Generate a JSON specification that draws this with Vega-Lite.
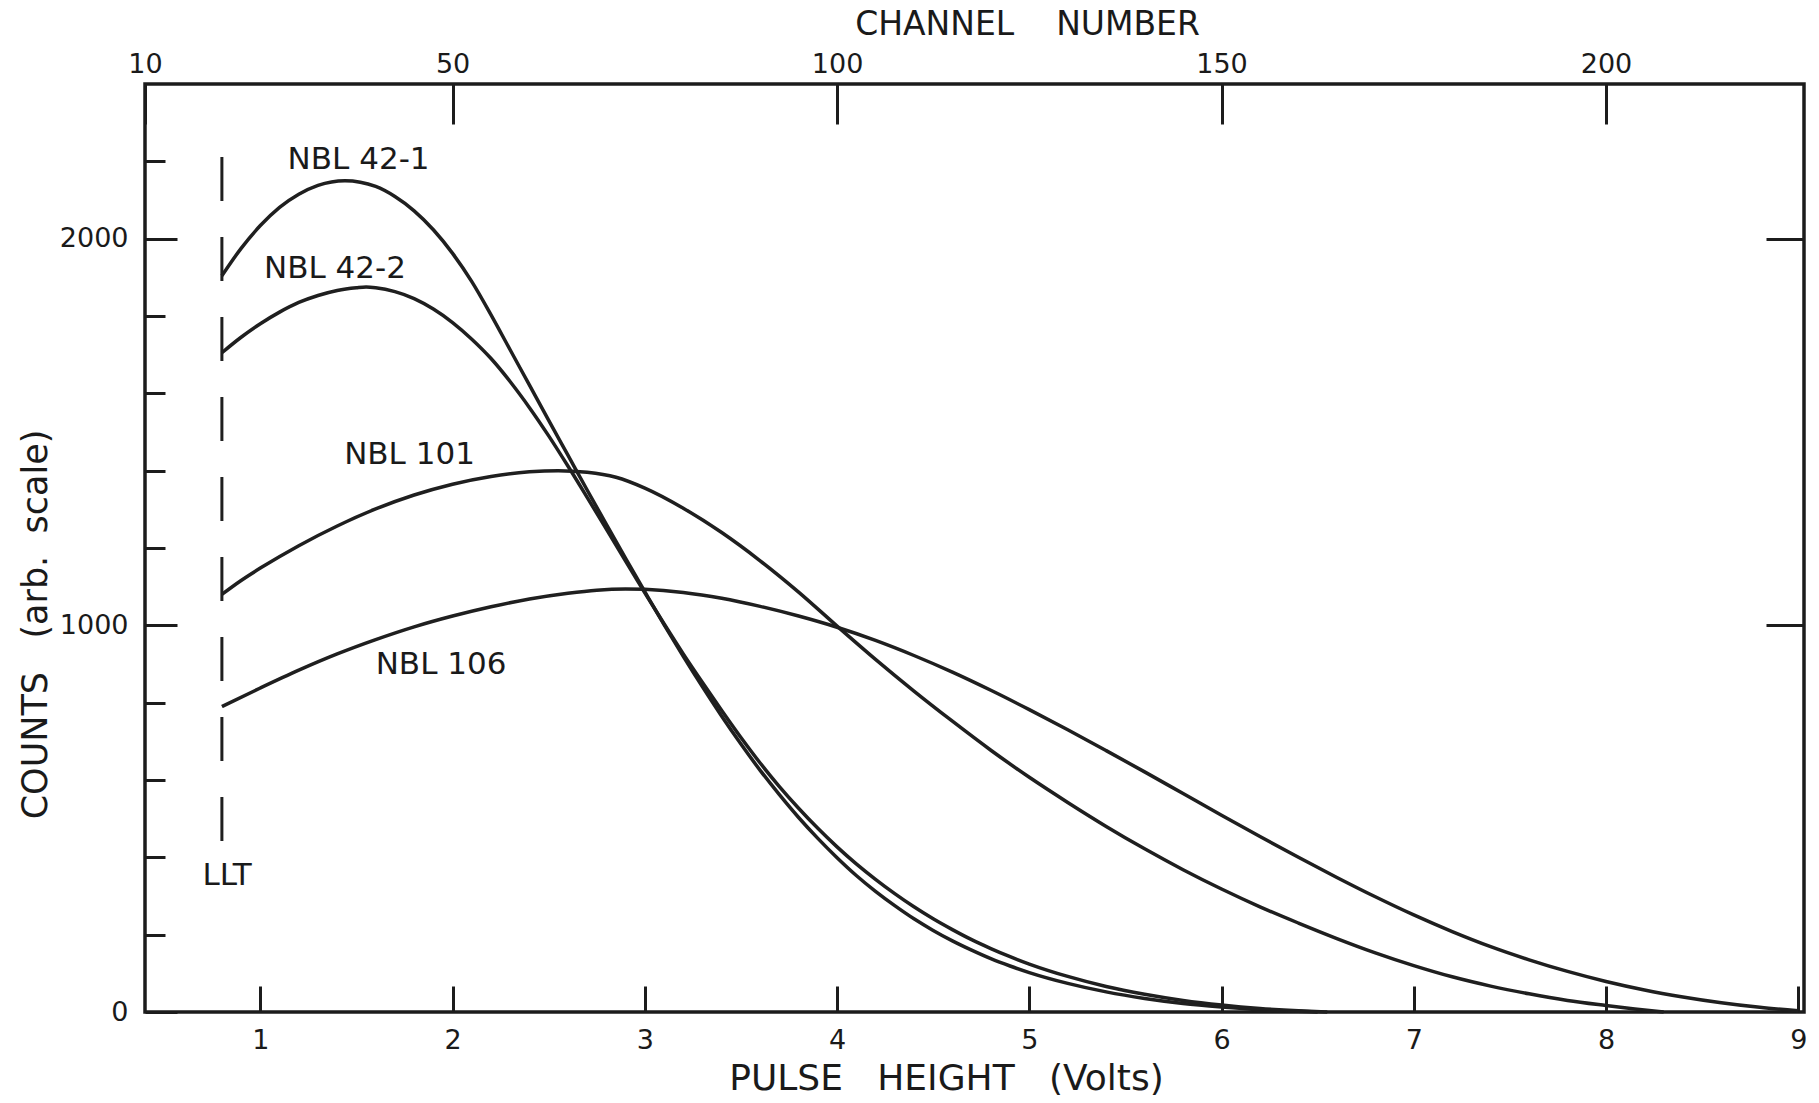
{
  "$schema": "https://vega.github.io/schema/vega-lite/v6.json",
  "width": 1659,
  "height": 928,
  "autosize": {"type": "none"},
  "padding": {"left": 145, "top": 84, "right": 15, "bottom": 91},
  "background": "#ffffff",
  "config": {
    "view": {"stroke": "#1c1c1c", "strokeWidth": 3.5},
    "axis": {
      "domain": false,
      "grid": false,
      "tickColor": "#1c1c1c",
      "tickWidth": 3,
      "labelColor": "#1a1a1a",
      "titleColor": "#1a1a1a",
      "labelFont": "DejaVu Sans",
      "titleFont": "DejaVu Sans",
      "labelFontSize": 27,
      "titleFontWeight": "normal",
      "labelOverlap": false
    },
    "text": {"font": "DejaVu Sans", "color": "#1a1a1a"}
  },
  "datasets": {
    "spectra": [
      {"sample": "NBL 42-1", "volts": 0.8, "counts": 1904},
      {"sample": "NBL 42-1", "volts": 0.9, "counts": 1975},
      {"sample": "NBL 42-1", "volts": 1.0, "counts": 2034},
      {"sample": "NBL 42-1", "volts": 1.1, "counts": 2081},
      {"sample": "NBL 42-1", "volts": 1.2, "counts": 2115},
      {"sample": "NBL 42-1", "volts": 1.3, "counts": 2138},
      {"sample": "NBL 42-1", "volts": 1.44, "counts": 2150},
      {"sample": "NBL 42-1", "volts": 1.6, "counts": 2135},
      {"sample": "NBL 42-1", "volts": 1.7, "counts": 2109},
      {"sample": "NBL 42-1", "volts": 1.8, "counts": 2072},
      {"sample": "NBL 42-1", "volts": 1.9, "counts": 2023},
      {"sample": "NBL 42-1", "volts": 2.0, "counts": 1962},
      {"sample": "NBL 42-1", "volts": 2.1, "counts": 1889},
      {"sample": "NBL 42-1", "volts": 2.2, "counts": 1803},
      {"sample": "NBL 42-1", "volts": 2.3, "counts": 1712},
      {"sample": "NBL 42-1", "volts": 2.4, "counts": 1621},
      {"sample": "NBL 42-1", "volts": 2.5, "counts": 1530},
      {"sample": "NBL 42-1", "volts": 2.6, "counts": 1440},
      {"sample": "NBL 42-1", "volts": 2.7, "counts": 1350},
      {"sample": "NBL 42-1", "volts": 2.8, "counts": 1261},
      {"sample": "NBL 42-1", "volts": 2.9, "counts": 1173},
      {"sample": "NBL 42-1", "volts": 3.0, "counts": 1087},
      {"sample": "NBL 42-1", "volts": 3.1, "counts": 1002},
      {"sample": "NBL 42-1", "volts": 3.2, "counts": 920},
      {"sample": "NBL 42-1", "volts": 3.3, "counts": 841},
      {"sample": "NBL 42-1", "volts": 3.4, "counts": 765},
      {"sample": "NBL 42-1", "volts": 3.5, "counts": 693},
      {"sample": "NBL 42-1", "volts": 3.6, "counts": 625},
      {"sample": "NBL 42-1", "volts": 3.7, "counts": 562},
      {"sample": "NBL 42-1", "volts": 3.8, "counts": 503},
      {"sample": "NBL 42-1", "volts": 3.9, "counts": 449},
      {"sample": "NBL 42-1", "volts": 4.0, "counts": 399},
      {"sample": "NBL 42-1", "volts": 4.1, "counts": 353},
      {"sample": "NBL 42-1", "volts": 4.2, "counts": 312},
      {"sample": "NBL 42-1", "volts": 4.3, "counts": 275},
      {"sample": "NBL 42-1", "volts": 4.4, "counts": 241},
      {"sample": "NBL 42-1", "volts": 4.5, "counts": 211},
      {"sample": "NBL 42-1", "volts": 4.6, "counts": 184},
      {"sample": "NBL 42-1", "volts": 4.7, "counts": 160},
      {"sample": "NBL 42-1", "volts": 4.8, "counts": 138},
      {"sample": "NBL 42-1", "volts": 4.9, "counts": 119},
      {"sample": "NBL 42-1", "volts": 5.0, "counts": 102},
      {"sample": "NBL 42-1", "volts": 5.2, "counts": 74},
      {"sample": "NBL 42-1", "volts": 5.4, "counts": 52},
      {"sample": "NBL 42-1", "volts": 5.6, "counts": 35},
      {"sample": "NBL 42-1", "volts": 5.8, "counts": 22},
      {"sample": "NBL 42-1", "volts": 6.0, "counts": 13},
      {"sample": "NBL 42-1", "volts": 6.2, "counts": 6},
      {"sample": "NBL 42-1", "volts": 6.4, "counts": 2},
      {"sample": "NBL 42-1", "volts": 6.5, "counts": 0},

      {"sample": "NBL 42-2", "volts": 0.8, "counts": 1705},
      {"sample": "NBL 42-2", "volts": 0.9, "counts": 1745},
      {"sample": "NBL 42-2", "volts": 1.0, "counts": 1780},
      {"sample": "NBL 42-2", "volts": 1.1, "counts": 1810},
      {"sample": "NBL 42-2", "volts": 1.2, "counts": 1835},
      {"sample": "NBL 42-2", "volts": 1.3, "counts": 1853},
      {"sample": "NBL 42-2", "volts": 1.4, "counts": 1866},
      {"sample": "NBL 42-2", "volts": 1.5, "counts": 1873},
      {"sample": "NBL 42-2", "volts": 1.55, "counts": 1875},
      {"sample": "NBL 42-2", "volts": 1.6, "counts": 1873},
      {"sample": "NBL 42-2", "volts": 1.7, "counts": 1863},
      {"sample": "NBL 42-2", "volts": 1.8, "counts": 1845},
      {"sample": "NBL 42-2", "volts": 1.9, "counts": 1818},
      {"sample": "NBL 42-2", "volts": 2.0, "counts": 1783},
      {"sample": "NBL 42-2", "volts": 2.1, "counts": 1740},
      {"sample": "NBL 42-2", "volts": 2.2, "counts": 1690},
      {"sample": "NBL 42-2", "volts": 2.3, "counts": 1630},
      {"sample": "NBL 42-2", "volts": 2.4, "counts": 1563},
      {"sample": "NBL 42-2", "volts": 2.5, "counts": 1490},
      {"sample": "NBL 42-2", "volts": 2.6, "counts": 1412},
      {"sample": "NBL 42-2", "volts": 2.7, "counts": 1331},
      {"sample": "NBL 42-2", "volts": 2.8, "counts": 1249},
      {"sample": "NBL 42-2", "volts": 2.9, "counts": 1166},
      {"sample": "NBL 42-2", "volts": 3.0, "counts": 1084},
      {"sample": "NBL 42-2", "volts": 3.1, "counts": 1004},
      {"sample": "NBL 42-2", "volts": 3.2, "counts": 926},
      {"sample": "NBL 42-2", "volts": 3.3, "counts": 852},
      {"sample": "NBL 42-2", "volts": 3.4, "counts": 780},
      {"sample": "NBL 42-2", "volts": 3.5, "counts": 710},
      {"sample": "NBL 42-2", "volts": 3.6, "counts": 644},
      {"sample": "NBL 42-2", "volts": 3.7, "counts": 583},
      {"sample": "NBL 42-2", "volts": 3.8, "counts": 527},
      {"sample": "NBL 42-2", "volts": 3.9, "counts": 475},
      {"sample": "NBL 42-2", "volts": 4.0, "counts": 427},
      {"sample": "NBL 42-2", "volts": 4.1, "counts": 383},
      {"sample": "NBL 42-2", "volts": 4.2, "counts": 343},
      {"sample": "NBL 42-2", "volts": 4.3, "counts": 306},
      {"sample": "NBL 42-2", "volts": 4.4, "counts": 272},
      {"sample": "NBL 42-2", "volts": 4.5, "counts": 241},
      {"sample": "NBL 42-2", "volts": 4.6, "counts": 213},
      {"sample": "NBL 42-2", "volts": 4.7, "counts": 187},
      {"sample": "NBL 42-2", "volts": 4.8, "counts": 164},
      {"sample": "NBL 42-2", "volts": 4.9, "counts": 143},
      {"sample": "NBL 42-2", "volts": 5.0, "counts": 124},
      {"sample": "NBL 42-2", "volts": 5.2, "counts": 92},
      {"sample": "NBL 42-2", "volts": 5.4, "counts": 66},
      {"sample": "NBL 42-2", "volts": 5.6, "counts": 46},
      {"sample": "NBL 42-2", "volts": 5.8, "counts": 30},
      {"sample": "NBL 42-2", "volts": 6.0, "counts": 18},
      {"sample": "NBL 42-2", "volts": 6.2, "counts": 9},
      {"sample": "NBL 42-2", "volts": 6.4, "counts": 3},
      {"sample": "NBL 42-2", "volts": 6.55, "counts": 0},

      {"sample": "NBL 101", "volts": 0.8, "counts": 1080},
      {"sample": "NBL 101", "volts": 0.9, "counts": 1116},
      {"sample": "NBL 101", "volts": 1.0, "counts": 1148},
      {"sample": "NBL 101", "volts": 1.2, "counts": 1206},
      {"sample": "NBL 101", "volts": 1.4, "counts": 1257},
      {"sample": "NBL 101", "volts": 1.6, "counts": 1301},
      {"sample": "NBL 101", "volts": 1.8, "counts": 1337},
      {"sample": "NBL 101", "volts": 2.0, "counts": 1365},
      {"sample": "NBL 101", "volts": 2.2, "counts": 1385},
      {"sample": "NBL 101", "volts": 2.4, "counts": 1397},
      {"sample": "NBL 101", "volts": 2.55, "counts": 1400},
      {"sample": "NBL 101", "volts": 2.7, "counts": 1396},
      {"sample": "NBL 101", "volts": 2.85, "counts": 1383},
      {"sample": "NBL 101", "volts": 3.0, "counts": 1355},
      {"sample": "NBL 101", "volts": 3.2, "counts": 1303},
      {"sample": "NBL 101", "volts": 3.4, "counts": 1240},
      {"sample": "NBL 101", "volts": 3.6, "counts": 1167},
      {"sample": "NBL 101", "volts": 3.8, "counts": 1086},
      {"sample": "NBL 101", "volts": 4.0, "counts": 998},
      {"sample": "NBL 101", "volts": 4.2, "counts": 912},
      {"sample": "NBL 101", "volts": 4.4, "counts": 830},
      {"sample": "NBL 101", "volts": 4.6, "counts": 752},
      {"sample": "NBL 101", "volts": 4.8, "counts": 677},
      {"sample": "NBL 101", "volts": 5.0, "counts": 607},
      {"sample": "NBL 101", "volts": 5.2, "counts": 542},
      {"sample": "NBL 101", "volts": 5.4, "counts": 480},
      {"sample": "NBL 101", "volts": 5.6, "counts": 422},
      {"sample": "NBL 101", "volts": 5.8, "counts": 368},
      {"sample": "NBL 101", "volts": 6.0, "counts": 318},
      {"sample": "NBL 101", "volts": 6.2, "counts": 272},
      {"sample": "NBL 101", "volts": 6.4, "counts": 230},
      {"sample": "NBL 101", "volts": 6.6, "counts": 190},
      {"sample": "NBL 101", "volts": 6.8, "counts": 153},
      {"sample": "NBL 101", "volts": 7.0, "counts": 120},
      {"sample": "NBL 101", "volts": 7.2, "counts": 91},
      {"sample": "NBL 101", "volts": 7.4, "counts": 67},
      {"sample": "NBL 101", "volts": 7.6, "counts": 47},
      {"sample": "NBL 101", "volts": 7.8, "counts": 30},
      {"sample": "NBL 101", "volts": 8.0, "counts": 17},
      {"sample": "NBL 101", "volts": 8.15, "counts": 8},
      {"sample": "NBL 101", "volts": 8.3, "counts": 0},

      {"sample": "NBL 106", "volts": 0.8, "counts": 790},
      {"sample": "NBL 106", "volts": 1.0, "counts": 838},
      {"sample": "NBL 106", "volts": 1.2, "counts": 884},
      {"sample": "NBL 106", "volts": 1.4, "counts": 926},
      {"sample": "NBL 106", "volts": 1.6, "counts": 963},
      {"sample": "NBL 106", "volts": 1.8, "counts": 996},
      {"sample": "NBL 106", "volts": 2.0, "counts": 1024},
      {"sample": "NBL 106", "volts": 2.2, "counts": 1048},
      {"sample": "NBL 106", "volts": 2.4, "counts": 1068},
      {"sample": "NBL 106", "volts": 2.6, "counts": 1083},
      {"sample": "NBL 106", "volts": 2.75, "counts": 1091},
      {"sample": "NBL 106", "volts": 2.9, "counts": 1094},
      {"sample": "NBL 106", "volts": 3.0, "counts": 1093},
      {"sample": "NBL 106", "volts": 3.2, "counts": 1085},
      {"sample": "NBL 106", "volts": 3.4, "counts": 1070},
      {"sample": "NBL 106", "volts": 3.6, "counts": 1049},
      {"sample": "NBL 106", "volts": 3.8, "counts": 1024},
      {"sample": "NBL 106", "volts": 4.0, "counts": 995},
      {"sample": "NBL 106", "volts": 4.2, "counts": 961},
      {"sample": "NBL 106", "volts": 4.4, "counts": 922},
      {"sample": "NBL 106", "volts": 4.6, "counts": 879},
      {"sample": "NBL 106", "volts": 4.8, "counts": 832},
      {"sample": "NBL 106", "volts": 5.0, "counts": 782},
      {"sample": "NBL 106", "volts": 5.2, "counts": 730},
      {"sample": "NBL 106", "volts": 5.4, "counts": 676},
      {"sample": "NBL 106", "volts": 5.6, "counts": 621},
      {"sample": "NBL 106", "volts": 5.8, "counts": 565},
      {"sample": "NBL 106", "volts": 6.0, "counts": 509},
      {"sample": "NBL 106", "volts": 6.2, "counts": 454},
      {"sample": "NBL 106", "volts": 6.4, "counts": 400},
      {"sample": "NBL 106", "volts": 6.6, "counts": 348},
      {"sample": "NBL 106", "volts": 6.8, "counts": 298},
      {"sample": "NBL 106", "volts": 7.0, "counts": 251},
      {"sample": "NBL 106", "volts": 7.2, "counts": 208},
      {"sample": "NBL 106", "volts": 7.4, "counts": 169},
      {"sample": "NBL 106", "volts": 7.6, "counts": 135},
      {"sample": "NBL 106", "volts": 7.8, "counts": 105},
      {"sample": "NBL 106", "volts": 8.0, "counts": 79},
      {"sample": "NBL 106", "volts": 8.2, "counts": 57},
      {"sample": "NBL 106", "volts": 8.4, "counts": 39},
      {"sample": "NBL 106", "volts": 8.6, "counts": 24},
      {"sample": "NBL 106", "volts": 8.8, "counts": 12},
      {"sample": "NBL 106", "volts": 9.0, "counts": 3}
    ],
    "annotations": [
      {"label": "NBL 42-1", "volts": 1.511, "counts": 2203},
      {"label": "NBL 42-2", "volts": 1.388, "counts": 1922},
      {"label": "NBL 101", "volts": 1.776, "counts": 1440},
      {"label": "NBL 106", "volts": 1.94, "counts": 897},
      {"label": "LLT", "volts": 0.827, "counts": 352}
    ],
    "threshold": [
      {"volts": 0.8, "counts": 2211, "counts_end": 400}
    ]
  },
  "layer": [
    {
      "data": {"name": "spectra"},
      "mark": {"type": "line", "interpolate": "monotone", "strokeWidth": 3.5, "color": "#1f1f1f"},
      "encoding": {
        "x": {
          "field": "volts", "type": "quantitative",
          "scale": {"domain": [0.4, 9.03], "nice": false, "zero": false},
          "axis": {
            "orient": "bottom",
            "values": [1, 2, 3, 4, 5, 6, 7, 8, 9],
            "format": "d",
            "tickSize": -26,
            "labelBaseline": "middle",
            "labelPadding": 54,
            "labelFlush": false,
            "title": "PULSE\u00a0\u00a0 HEIGHT\u00a0\u00a0 (Volts)",
            "titleFontSize": 36,
            "titleX": 801,
            "titleY": 66,
            "titleAlign": "center",
            "titleBaseline": "middle"
          }
        },
        "y": {
          "field": "counts", "type": "quantitative",
          "scale": {"domain": [0, 2400], "nice": false},
          "axis": {
            "orient": "left",
            "values": [200, 400, 600, 800, 1200, 1400, 1600, 1800, 2200],
            "tickSize": -20,
            "labels": false,
            "title": "COUNTS\u00a0\u00a0 (arb.\u00a0 scale)",
            "titleFontSize": 35,
            "titleX": -110,
            "titleY": 540,
            "titleAngle": 270,
            "titleAlign": "center",
            "titleBaseline": "middle"
          }
        },
        "detail": {"field": "sample", "type": "nominal"}
      }
    },
    {
      "data": {"name": "threshold"},
      "mark": {"type": "rule", "strokeWidth": 3, "strokeDash": [44, 36], "color": "#1f1f1f"},
      "encoding": {
        "x": {
          "field": "volts", "type": "quantitative",
          "scale": {"domain": [0.4, 9.03], "nice": false, "zero": false},
          "axis": {
            "orient": "top",
            "values": [0.4, 2, 4, 6, 8],
            "labelExpr": "format(datum.value * 25, 'd')",
            "tickSize": -40,
            "labelBaseline": "middle",
            "labelPadding": 60,
            "labelFlush": false,
            "title": "CHANNEL\u00a0\u00a0\u00a0 NUMBER",
            "titleFontSize": 33,
            "titleX": 882,
            "titleY": -60,
            "titleAlign": "center",
            "titleBaseline": "middle"
          }
        },
        "y": {
          "field": "counts", "type": "quantitative",
          "scale": {"domain": [0, 2400], "nice": false},
          "axis": {
            "orient": "right",
            "values": [1000, 2000],
            "tickSize": -38,
            "labels": false,
            "title": null
          }
        },
        "y2": {"field": "counts_end"}
      }
    },
    {
      "data": {"name": "annotations"},
      "mark": {"type": "text", "fontSize": 31, "align": "center", "baseline": "middle"},
      "encoding": {
        "x": {
          "field": "volts", "type": "quantitative",
          "scale": {"domain": [0.4, 9.03], "nice": false, "zero": false},
          "axis": null
        },
        "y": {
          "field": "counts", "type": "quantitative",
          "scale": {"domain": [0, 2400], "nice": false},
          "axis": {
            "orient": "left",
            "values": [0, 1000, 2000],
            "format": "d",
            "tickSize": -32,
            "labelBaseline": "middle",
            "labelPadding": 49,
            "labelFlush": true,
            "title": null
          }
        },
        "text": {"field": "label", "type": "nominal"}
      }
    }
  ],
  "resolve": {"scale": {"x": "independent", "y": "independent"}}
}
